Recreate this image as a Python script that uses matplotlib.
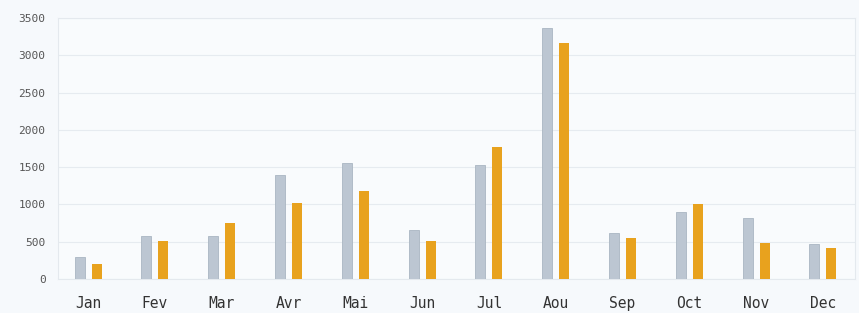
import matplotlib.pyplot as plt
import numpy as np

months = ['Jan', 'Fev', 'Mar', 'Avr', 'Mai', 'Jun', 'Jul', 'Aou', 'Sep', 'Oct', 'Nov', 'Dec']
serie_a = [295, 576, 576, 1394, 1555, 657, 1530, 3365, 617, 900, 818, 470]
serie_b = [200, 510, 750, 1020, 1180, 510, 1770, 3165, 550, 1005, 483, 415]

plt.rcParams['font.family'] = 'DejaVu Sans Mono'

fig = plt.figure(figsize=(8.59, 3.13), dpi=100)
fig.patch.set_facecolor('#f6f9fc')
ax = fig.add_axes([58/859, 34/313, 797/859, 261/313])
ax.set_facecolor('#f9fbfd')

x = np.arange(len(months))
ax.bar(x - 0.128, serie_a, width=0.15, color='#bcc6d2', edgecolor='#aab6c2', linewidth=0.6, zorder=3)
ax.bar(x + 0.128, serie_b, width=0.15, color='#e8a21e', zorder=3)

ax.set_xlim(-0.45, 11.48)
ax.set_ylim(0, 3500)
ax.set_yticks(range(0, 3501, 500))
ax.set_xticks(x)
ax.set_xticklabels(months, fontsize=10.5, color='#333333')
ax.tick_params(axis='y', labelsize=8, colors='#555555', length=0, pad=9)
ax.tick_params(axis='x', length=0, pad=12)
ax.grid(axis='y', color='#e6ebf0', linewidth=0.8, zorder=0)
for s in ax.spines.values():
    s.set_color('#e4e9ee')
    s.set_linewidth(0.8)

fig.savefig('out.png', dpi=100, facecolor=fig.get_facecolor())
